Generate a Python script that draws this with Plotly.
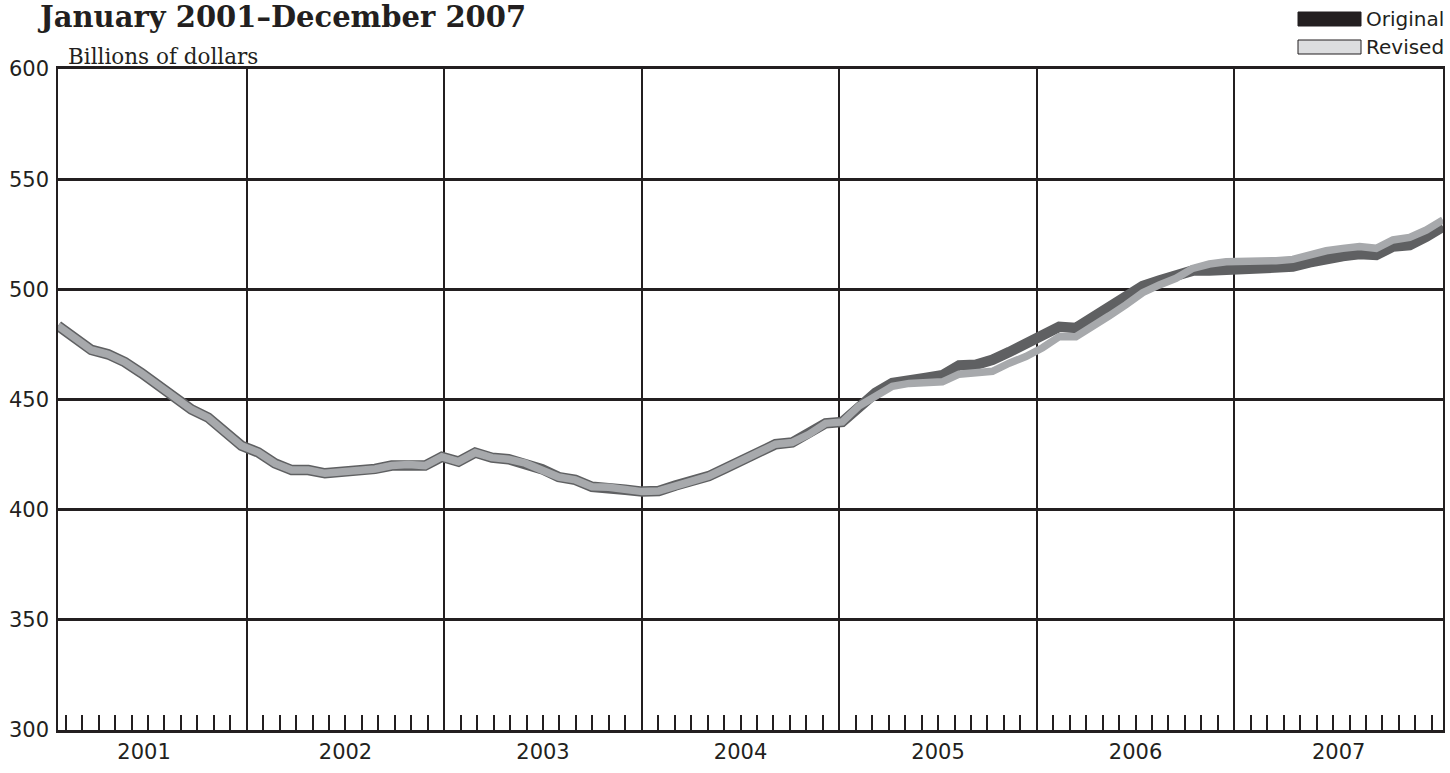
import plotly.graph_objects as go

# ---------------- data ----------------
years = ["2001", "2002", "2003", "2004", "2005", "2006", "2007"]

original = [
    483.5, 477.5, 472.5, 470.5, 467.0, 462.0, 456.5, 450.5, 445.5, 441.8, 435.5, 429.0,
    426.0, 421.0, 418.0, 418.0, 416.5, 417.0, 417.5, 418.5, 420.0, 420.5, 420.0, 424.0,
    421.8, 425.9, 423.6, 422.9, 421.1, 418.4, 414.8, 413.5, 410.4, 410.2, 409.0, 408.2,
    408.5, 411.0, 413.3, 415.2, 418.8, 422.5, 426.5, 429.7, 430.5, 434.2, 439.2, 439.8,
    447.0, 453.0, 457.5, 459.2, 459.8, 461.0, 465.5, 465.8, 468.0, 471.5, 475.0, 479.5,
    483.0, 482.5, 487.5, 492.0, 496.5, 501.5, 504.0, 506.5, 508.5, 508.5, 509.0, 509.2,
    509.5, 509.8, 510.3, 512.2, 514.1, 515.1, 516.0, 515.6, 519.4, 520.1, 523.9, 528.5,
]

revised = [
    483.5, 477.5, 472.5, 470.5, 467.0, 462.0, 456.5, 450.5, 445.5, 441.8, 435.5, 429.0,
    426.0, 421.0, 418.0, 418.0, 416.5, 417.0, 417.5, 418.5, 420.0, 420.5, 420.0, 424.0,
    421.8, 425.9, 423.6, 422.9, 421.1, 418.4, 414.8, 413.5, 410.4, 410.2, 409.0, 408.2,
    408.5, 411.0, 413.3, 415.2, 418.8, 422.5, 426.5, 429.7, 430.5, 434.2, 439.2, 439.8,
    447.0, 452.0, 456.0, 457.3, 457.5, 458.0, 461.5, 462.0, 462.8, 466.5, 469.5, 473.5,
    478.5, 478.5, 483.0, 488.0, 493.0, 498.5, 502.0, 505.0, 509.5, 511.5, 512.5, 512.5,
    512.9, 513.0, 513.6, 515.6, 517.5, 518.6, 519.4, 518.6, 522.4, 523.6, 526.9, 531.5,
]

y_ticks = [300, 350, 400, 450, 500, 550, 600]

# ---------------- styling / layout ----------------
W, H = 1450, 773
ML, MR, MT, MB = 58, 7, 69, 43
INK = "#231f20"
ORIG_COLOR = "#5f6062"
REV_COLOR = "#a7a9ac"
SANS = "DejaVu Sans"
SERIF = "DejaVu Serif"

months_idx = list(range(len(original)))
n = len(original)
x_max = n - 1

# month tick marks and year separators (axis decoration positions)
tick_step = 0.9864
tick_off = 0.46
year_sep_k = [11, 23, 35, 47, 59, 71]
month_ticks = [tick_off + tick_step * k for k in range(n) if k not in year_sep_k]
year_lines = [tick_off + tick_step * k for k in year_sep_k]
bounds = [-1.0] + year_lines + [float(x_max)]
year_label_pos = [(bounds[i] + bounds[i + 1]) / 2 for i in range(len(years))]

pw = W - ML - MR
ph = H - MT - MB


def px_x(p):
    return (p - ML) / pw


def px_y(p):
    return (H - MB - p) / ph


fig = go.Figure()
fig.add_trace(go.Scatter(
    x=months_idx, y=original, mode="lines", name="Original",
    line=dict(color=ORIG_COLOR, width=10.5), showlegend=False, hoverinfo="skip",
))
fig.add_trace(go.Scatter(
    x=months_idx, y=revised, mode="lines", name="Revised",
    line=dict(color=REV_COLOR, width=7.5), showlegend=False, hoverinfo="skip",
))
# invisible traces to activate overlay axes
fig.add_trace(go.Scatter(x=[0], y=[450], xaxis="x2", mode="markers",
                         marker=dict(opacity=0), showlegend=False, hoverinfo="skip"))
fig.add_trace(go.Scatter(x=[0], y=[450], xaxis="x3", mode="markers",
                         marker=dict(opacity=0), showlegend=False, hoverinfo="skip"))

fig.update_layout(
    width=W, height=H,
    margin=dict(l=ML, r=MR, t=MT, b=MB, pad=0, autoexpand=False),
    paper_bgcolor="white", plot_bgcolor="white",
    showlegend=False,
    xaxis=dict(
        range=[0, x_max], tickmode="array", tickvals=year_label_pos, ticktext=years,
        ticks="", showgrid=False, zeroline=False,
        showline=True, linewidth=3, linecolor=INK, mirror=True,
        tickfont=dict(family=SANS, size=21, color=INK), ticklabelstandoff=1,
        fixedrange=True, automargin=False,
    ),
    xaxis2=dict(
        overlaying="x", anchor="y", side="bottom", range=[0, x_max],
        tickmode="array", tickvals=month_ticks, ticks="inside", ticklen=15,
        tickwidth=2, tickcolor=INK, showticklabels=False, showgrid=False,
        showline=False, zeroline=False, fixedrange=True, automargin=False,
    ),
    xaxis3=dict(
        overlaying="x", anchor="y", side="bottom", range=[0, x_max],
        tickmode="array", tickvals=year_lines, ticks="", showticklabels=False,
        showgrid=True, gridcolor=INK, gridwidth=1.5,
        showline=False, zeroline=False, fixedrange=True, automargin=False,
    ),
    yaxis=dict(
        range=[300, 600], tickmode="array", tickvals=y_ticks,
        ticktext=[str(v) for v in y_ticks],
        showgrid=True, gridcolor=INK, gridwidth=3, zeroline=False,
        showline=True, linewidth=1.5, linecolor=INK, mirror=True,
        ticks="", tickfont=dict(family=SANS, size=21, color=INK),
        ticklabelstandoff=3, fixedrange=True, automargin=False,
    ),
)

annotations = [
    dict(text="<b>January 2001\u2013December 2007</b>", x=px_x(35), y=px_y(17),
         xref="paper", yref="paper", xanchor="left", yanchor="middle",
         showarrow=False, font=dict(family=SERIF, size=29, color=INK)),
    dict(text="Billions of dollars", x=px_x(66), y=px_y(56),
         xref="paper", yref="paper", xanchor="left", yanchor="middle",
         showarrow=False, font=dict(family=SERIF, size=21.5, color=INK)),
    dict(text="Original", x=px_x(1446), y=px_y(19),
         xref="paper", yref="paper", xanchor="right", yanchor="middle",
         showarrow=False, font=dict(family=SANS, size=20, color=INK)),
    dict(text="Revised", x=px_x(1446), y=px_y(47),
         xref="paper", yref="paper", xanchor="right", yanchor="middle",
         showarrow=False, font=dict(family=SANS, size=20, color=INK)),
]
fig.update_layout(annotations=annotations)

shapes = [
    dict(type="rect", xref="paper", yref="paper",
         x0=px_x(1298), x1=px_x(1361), y0=px_y(26), y1=px_y(12),
         fillcolor=INK, line=dict(color=INK, width=1)),
    dict(type="rect", xref="paper", yref="paper",
         x0=px_x(1298), x1=px_x(1361), y0=px_y(54), y1=px_y(40),
         fillcolor="#dcdddf", line=dict(color=INK, width=1)),
]
fig.update_layout(shapes=shapes)

fig.write_html(
    "out.html",
    config={"displayModeBar": False},
    post_script="document.body.style.margin='0';document.body.style.overflow='hidden';",
)
